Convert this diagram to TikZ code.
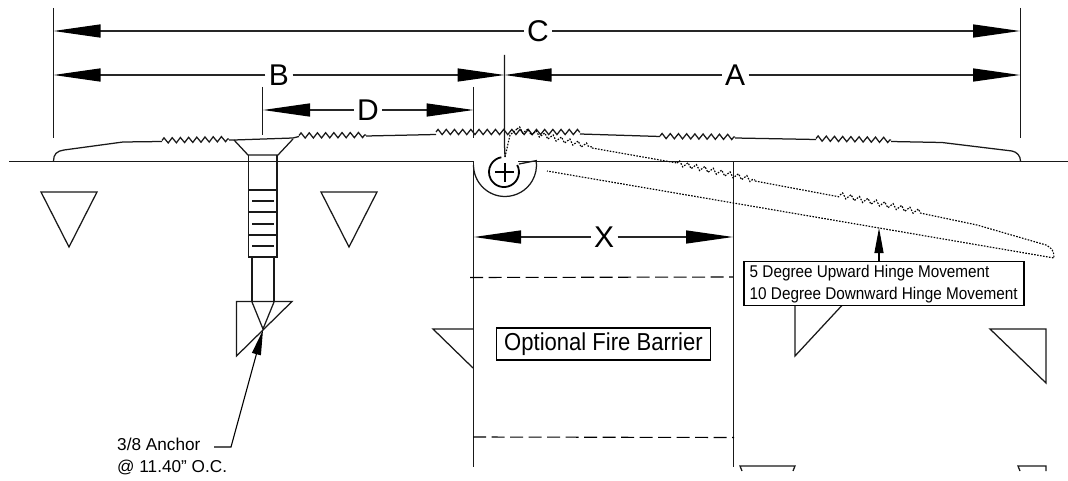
\documentclass[tikz,border=0pt]{standalone}
\usepackage{fontspec}
\setmainfont{Liberation Sans}
\newfontfamily\condfont[FakeStretch=0.9]{Liberation Sans}
\usetikzlibrary{arrows.meta,decorations.pathmorphing}
\tikzset{
  ln/.style={line width=1.25pt,line join=miter,black!90},
  dimline/.style={line width=1.3pt,black!85,-{Triangle[length=47pt,width=13pt,black]}},
  smalldim/.style={line width=1.1pt,black,-{Triangle[length=25pt,width=9pt,black]}},
  dimlabel/.style={font=\fontsize{30}{30}\selectfont,inner sep=3.5pt,outer sep=0pt},
  note/.style={font=\condfont\fontsize{17}{21.5}\selectfont,align=left,inner sep=0pt},
  anchornote/.style={font=\fontsize{17.2}{21.5}\selectfont,align=left,inner sep=0pt},
  frame/.style={draw=black,line width=1.1pt,fill=white},
  zig/.style={decorate,decoration={zigzag,segment length=8.2pt,amplitude=2.6pt}},
  ghost/.style={line width=1.15pt,black,dash pattern=on 1.6pt off 1.4pt},
  ghostzig/.style={ghost,decorate,decoration={zigzag,segment length=8.6pt,amplitude=2.6pt}}
}
\begin{document}
\begin{tikzpicture}[x=1pt,y=-1pt]
\useasboundingbox (0,0) rectangle (1068,481);
\fill[white] (0,0) rectangle (1068,481);
% dimension witness points
\coordinate (cl) at (53.5,31);   \coordinate (cr) at (1020,31);
\coordinate (bl) at (53.5,75);   \coordinate (bm) at (504.5,75);
\coordinate (dl) at (263,110); \coordinate (dr) at (473.5,110);
\coordinate (xl) at (474,237); \coordinate (xr) at (733,237);
% witness lines
\draw[ln] (53.5,8) -- (53.5,138);
\draw[ln] (1020.5,8) -- (1020.5,138);
\draw[ln] (262.5,87) -- (262.5,135);
\draw[ln] (473.5,87) -- (473.5,138);
\draw[ln] (504.5,55) -- (504.5,145) -- (505,157);
% labels
\node[dimlabel] (C) at (538,31) {C};
\node[dimlabel] (B) at (279,75) {B};
\node[dimlabel] (A) at (735,75) {A};
\node[dimlabel] (D) at (368,110) {D};
\node[dimlabel] (X) at (604,237) {X};
% dimensions
\draw[dimline] (C) -- (cl);
\draw[dimline] (C) -- (cr);
\draw[dimline] (B) -- (bl);
\draw[dimline] (B) -- (bm);
\draw[dimline] (A) -- (bm);
\draw[dimline] (A) -- (cr |- bm);
\draw[dimline] (D) -- (dl);
\draw[dimline] (D) -- (dr);
\draw[dimline] (X) -- (xl);
\draw[dimline] (X) -- (xr);
% ground, walls
\draw[ln] (9,161.5) -- (473.5,161.5) -- (473.5,467);
\draw[ln] (518,161.5) -- (1068,161.5);
\draw[ln] (733.5,161.5) -- (733.5,467);
% top plate
\draw[ln] (53.5,161) .. controls (53.5,154) and (57,151) .. (64,150) -- (123,142) -- (162,141.5);
\draw[ln,zig] (162,140.5) -- (229,139);
\draw[ln] (229,140) -- (234,140) -- (293,138) -- (299,136.5);
\draw[ln,zig] (299,135.5) -- (366,135);
\draw[ln] (366,136) -- (436,134.5);
\draw[ln,zig] (436,132) -- (580,132);
\draw[ln] (580,134) -- (660,136.5);
\draw[ln,zig] (660,136) -- (735,137);
\draw[ln] (735,138) -- (816,139.5);
\draw[ln,zig] (816,138.5) -- (891,140);
\draw[ln] (891,141.5) -- (942,142.5) -- (1012,151) .. controls (1017,152) and (1020.5,156) .. (1020.5,161);
% hinge
\draw[ln] (473.5,165) arc[start angle=180,end angle=-8,radius=31.5] -- (519,164);
\draw[line width=1.8pt] (517.2,165) arc[start angle=-28,end angle=260,radius=15];
\draw[line width=1.3pt] (495,172) -- (514,172);
\draw[line width=1.3pt] (505,163) -- (505,182);
% raised plate ghost
\draw[ghost] (505,157) -- (510,135) -- (517,129);
\draw[ghostzig] (517,129) -- (592,147);
\draw[ghost] (592,148) -- (677,163);
\draw[ghostzig] (677,163) -- (755,180);
\draw[ghost] (755,181) -- (840,197);
\draw[ghostzig] (840,195) -- (920,212);
\draw[ghost] (920,213) -- (977,225) -- (1046,245) .. controls (1052,248) and (1054,251) .. (1054,258) -- (547,171);
% anchor
\draw[ln] (234,140) -- (248,155) -- (278,155) -- (293,139);
\draw[ln] (248.5,155) -- (248.5,257) -- (277,257) -- (277,155);
\foreach \yy in {190,212,235} \draw[ln] (248.5,\yy) -- (277,\yy);
\foreach \yy in {201,224,246} \draw[ln] (252,\yy) -- (274,\yy);
\draw[ln] (252,257) -- (252,302);
\draw[ln] (274,257) -- (274,302);
\draw[ln] (236.5,301.5) -- (292,301.5) -- (236.5,356) -- cycle;
\draw[ln] (252,302) -- (263,329) -- (274,302);
% triangles
\draw[ln] (41,192) -- (97,192) -- (69,247) -- cycle;
\draw[ln] (321,192) -- (377,192) -- (349,247) -- cycle;
\draw[ln] (473,329) -- (433,329) -- (473,368);
\draw[ln] (795,300) -- (795,356) -- (847,300);
\draw[ln] (990,329) -- (1046,329) -- (1046,383) -- cycle;
\draw[ln] (742,471) -- (740,466) -- (795,466) -- (793,471);
\draw[ln] (1020,471) -- (1018,466) -- (1046,466) -- (1046,471);
% fire barrier
\draw[line width=1.1pt,dash pattern=on 13pt off 5.5pt] (470,277.5) -- (733,277);
\draw[line width=1.1pt,dash pattern=on 13pt off 5.5pt] (473,437) -- (734,437.5);
\node[frame,font=\condfont\fontsize{24.5}{24.5}\selectfont,minimum width=214pt,minimum height=32pt,inner sep=0pt] (fire) at (603.5,344) {Optional Fire Barrier};
% hinge note
\node[frame,minimum width=280pt,minimum height=43.5pt,inner sep=0pt] (hingebox) at (884,283.5) {};
\node[note,anchor=west] (hingetext) at (749.5,284) {5 Degree Upward Hinge Movement\\10 Degree Downward Hinge Movement};
\coordinate (htip) at (879,228);
\draw[smalldim] (hingebox.north -| htip) -- ++(0,-6.5) -- (htip);
% anchor note
\node[anchornote,anchor=north west] (anchortext) at (117,438) {3/8 Anchor\\@ 11.40" O.C.};
\coordinate (atip) at (263,330);
\coordinate (aelbow) at (231,447);
\coordinate (astart) at (214,447);
\draw[smalldim] (astart) -- (aelbow) -- (atip);
\end{tikzpicture}
\end{document}
